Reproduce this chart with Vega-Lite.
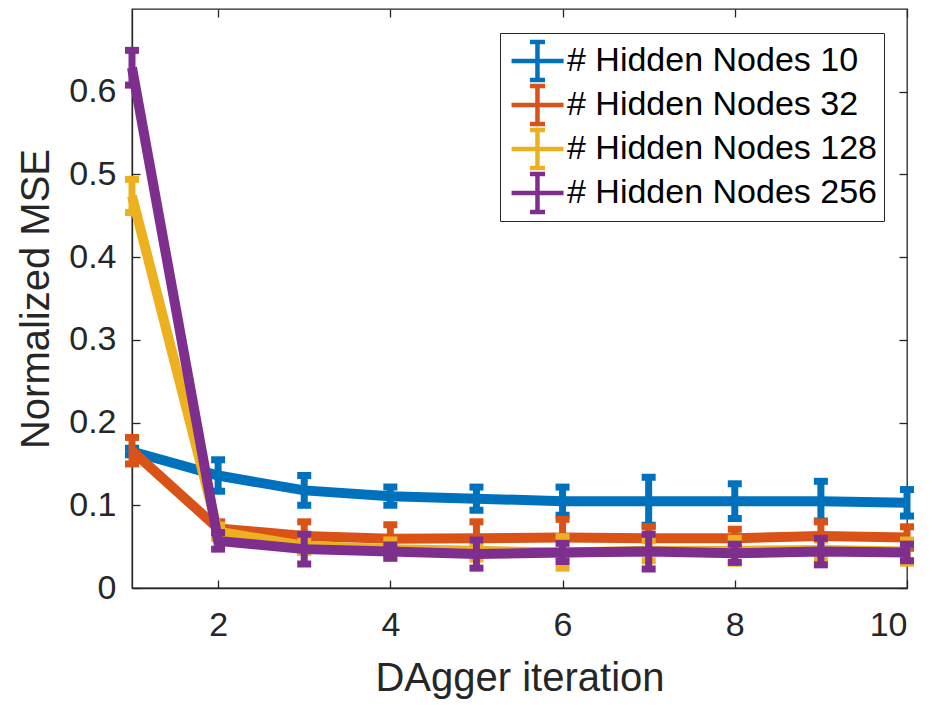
{
  "$schema": "https://vega.github.io/schema/vega-lite/v6.json",
  "width": 775,
  "height": 579,
  "autosize": "none",
  "padding": {"left": 132, "top": 9, "right": 26, "bottom": 117},
  "background": "white",
  "config": {
    "font": "Liberation Sans",
    "view": {"stroke": "#262626", "strokeWidth": 1.3},
    "axis": {
      "grid": false,
      "domainColor": "#262626",
      "domainWidth": 1.3,
      "tickColor": "#262626",
      "tickWidth": 1.3,
      "tickSize": -8,
      "labelFont": "Liberation Sans",
      "labelFontSize": 34,
      "labelColor": "#262626",
      "titleFont": "Liberation Sans",
      "titleFontSize": 40,
      "titleFontWeight": "normal",
      "titleColor": "#262626"
    }
  },
  "data": {
    "values": [
      {"series": "# Hidden Nodes 10", "x": 1, "y": 0.165, "err": 0.004},
      {"series": "# Hidden Nodes 10", "x": 2, "y": 0.136, "err": 0.019},
      {"series": "# Hidden Nodes 10", "x": 3, "y": 0.118, "err": 0.018},
      {"series": "# Hidden Nodes 10", "x": 4, "y": 0.111, "err": 0.011},
      {"series": "# Hidden Nodes 10", "x": 5, "y": 0.108, "err": 0.014},
      {"series": "# Hidden Nodes 10", "x": 6, "y": 0.105, "err": 0.017},
      {"series": "# Hidden Nodes 10", "x": 7, "y": 0.105, "err": 0.029},
      {"series": "# Hidden Nodes 10", "x": 8, "y": 0.105, "err": 0.021},
      {"series": "# Hidden Nodes 10", "x": 9, "y": 0.105, "err": 0.024},
      {"series": "# Hidden Nodes 10", "x": 10, "y": 0.103, "err": 0.016},
      {"series": "# Hidden Nodes 32", "x": 1, "y": 0.166, "err": 0.016},
      {"series": "# Hidden Nodes 32", "x": 2, "y": 0.072, "err": 0.008},
      {"series": "# Hidden Nodes 32", "x": 3, "y": 0.063, "err": 0.017},
      {"series": "# Hidden Nodes 32", "x": 4, "y": 0.0595, "err": 0.017},
      {"series": "# Hidden Nodes 32", "x": 5, "y": 0.06, "err": 0.02},
      {"series": "# Hidden Nodes 32", "x": 6, "y": 0.061, "err": 0.022},
      {"series": "# Hidden Nodes 32", "x": 7, "y": 0.06, "err": 0.014},
      {"series": "# Hidden Nodes 32", "x": 8, "y": 0.06, "err": 0.011},
      {"series": "# Hidden Nodes 32", "x": 9, "y": 0.063, "err": 0.017},
      {"series": "# Hidden Nodes 32", "x": 10, "y": 0.061, "err": 0.013},
      {"series": "# Hidden Nodes 128", "x": 1, "y": 0.474, "err": 0.02},
      {"series": "# Hidden Nodes 128", "x": 2, "y": 0.068, "err": 0.008},
      {"series": "# Hidden Nodes 128", "x": 3, "y": 0.051, "err": 0.008},
      {"series": "# Hidden Nodes 128", "x": 4, "y": 0.047, "err": 0.011},
      {"series": "# Hidden Nodes 128", "x": 5, "y": 0.045, "err": 0.01},
      {"series": "# Hidden Nodes 128", "x": 6, "y": 0.043, "err": 0.019},
      {"series": "# Hidden Nodes 128", "x": 7, "y": 0.045, "err": 0.012},
      {"series": "# Hidden Nodes 128", "x": 8, "y": 0.045, "err": 0.015},
      {"series": "# Hidden Nodes 128", "x": 9, "y": 0.046, "err": 0.012},
      {"series": "# Hidden Nodes 128", "x": 10, "y": 0.044, "err": 0.014},
      {"series": "# Hidden Nodes 256", "x": 1, "y": 0.629, "err": 0.021},
      {"series": "# Hidden Nodes 256", "x": 2, "y": 0.057, "err": 0.01},
      {"series": "# Hidden Nodes 256", "x": 3, "y": 0.047, "err": 0.018},
      {"series": "# Hidden Nodes 256", "x": 4, "y": 0.044, "err": 0.008},
      {"series": "# Hidden Nodes 256", "x": 5, "y": 0.041, "err": 0.017},
      {"series": "# Hidden Nodes 256", "x": 6, "y": 0.043, "err": 0.011},
      {"series": "# Hidden Nodes 256", "x": 7, "y": 0.044, "err": 0.021},
      {"series": "# Hidden Nodes 256", "x": 8, "y": 0.042, "err": 0.011},
      {"series": "# Hidden Nodes 256", "x": 9, "y": 0.044, "err": 0.016},
      {"series": "# Hidden Nodes 256", "x": 10, "y": 0.043, "err": 0.01}
    ]
  },
  "layer": [
    {
      "encoding": {
        "x": {
          "field": "x",
          "type": "quantitative",
          "scale": {"domain": [1, 10], "nice": false, "zero": false},
          "axis": {"orient": "bottom", "values": [2, 4, 6, 8, 10], "format": "d", "labelPadding": 28, "title": "DAgger iteration", "titlePadding": 16}
        },
        "y": {
          "field": "y",
          "type": "quantitative",
          "scale": {"domain": [0, 0.7], "nice": false},
          "axis": {"orient": "left", "values": [0, 0.1, 0.2, 0.3, 0.4, 0.5, 0.6], "format": ".1~f", "labelPadding": 24, "title": "Normalized MSE", "titlePadding": 12}
        },
        "color": {
          "field": "series",
          "type": "nominal",
          "scale": {
            "domain": ["# Hidden Nodes 10", "# Hidden Nodes 32", "# Hidden Nodes 128", "# Hidden Nodes 256"],
            "range": ["#0072BD", "#D95319", "#EDB120", "#7E2F8E"]
          },
          "legend": {
            "orient": "none",
            "legendX": 368,
            "legendY": 24,
            "title": null,
            "strokeColor": "#262626",
            "fillColor": "white",
            "padding": 6,
            "cornerRadius": 0,
            "rowPadding": 0,
            "clipHeight": 44,
            "labelOffset": 20,
            "labelFont": "Liberation Sans",
            "labelFontSize": 34,
            "labelColor": "black",
            "labelLimit": 0,
            "symbolSize": 1296,
            "symbolStrokeWidth": 4.5,
            "symbolType": "M-0.83,0H2.06M0.61,-1.06V1.06M0.19,-1.06H1.03M0.19,1.06H1.03",
            "symbolFillColor": "transparent",
            "encode": {
              "symbols": {
                "update": {
                  "shape": {"value": "M-0.83,0H2.06M0.61,-1.06V1.06M0.19,-1.06H1.03M0.19,1.06H1.03"},
                  "strokeWidth": {"value": 4.5},
                  "fill": {"value": "transparent"},
                  "opacity": {"value": 1}
                }
              }
            }
          }
        }
      },
      "layer": [
        {
          "transform": [{"filter": {"field": "series", "equal": "# Hidden Nodes 10"}}],
          "layer": [
            {"mark": {"type": "line", "strokeWidth": 10}},
            {"mark": {"type": "errorbar", "ticks": {"opacity": 1}, "rule": {"opacity": 1}, "size": 14, "thickness": 7}, "encoding": {"yError": {"field": "err"}}}
          ]
        },
        {
          "transform": [{"filter": {"field": "series", "equal": "# Hidden Nodes 32"}}],
          "layer": [
            {"mark": {"type": "line", "strokeWidth": 10}},
            {"mark": {"type": "errorbar", "ticks": {"opacity": 1}, "rule": {"opacity": 1}, "size": 14, "thickness": 7}, "encoding": {"yError": {"field": "err"}}}
          ]
        },
        {
          "transform": [{"filter": {"field": "series", "equal": "# Hidden Nodes 128"}}],
          "layer": [
            {"mark": {"type": "line", "strokeWidth": 10}},
            {"mark": {"type": "errorbar", "ticks": {"opacity": 1}, "rule": {"opacity": 1}, "size": 14, "thickness": 7}, "encoding": {"yError": {"field": "err"}}}
          ]
        },
        {
          "transform": [{"filter": {"field": "series", "equal": "# Hidden Nodes 256"}}],
          "layer": [
            {"mark": {"type": "line", "strokeWidth": 10}},
            {"mark": {"type": "errorbar", "ticks": {"opacity": 1}, "rule": {"opacity": 1}, "size": 14, "thickness": 7}, "encoding": {"yError": {"field": "err"}}}
          ]
        }
      ]
    },
    {
      "mark": {"type": "point", "opacity": 0},
      "encoding": {
        "x": {
          "field": "x",
          "type": "quantitative",
          "axis": {"orient": "top", "values": [2, 4, 6, 8, 10], "labels": false, "domain": false, "title": null}
        },
        "y": {
          "field": "y",
          "type": "quantitative",
          "axis": {"orient": "right", "values": [0, 0.1, 0.2, 0.3, 0.4, 0.5, 0.6], "labels": false, "domain": false, "title": null}
        }
      }
    }
  ],
  "resolve": {"axis": {"x": "independent", "y": "independent"}}
}
